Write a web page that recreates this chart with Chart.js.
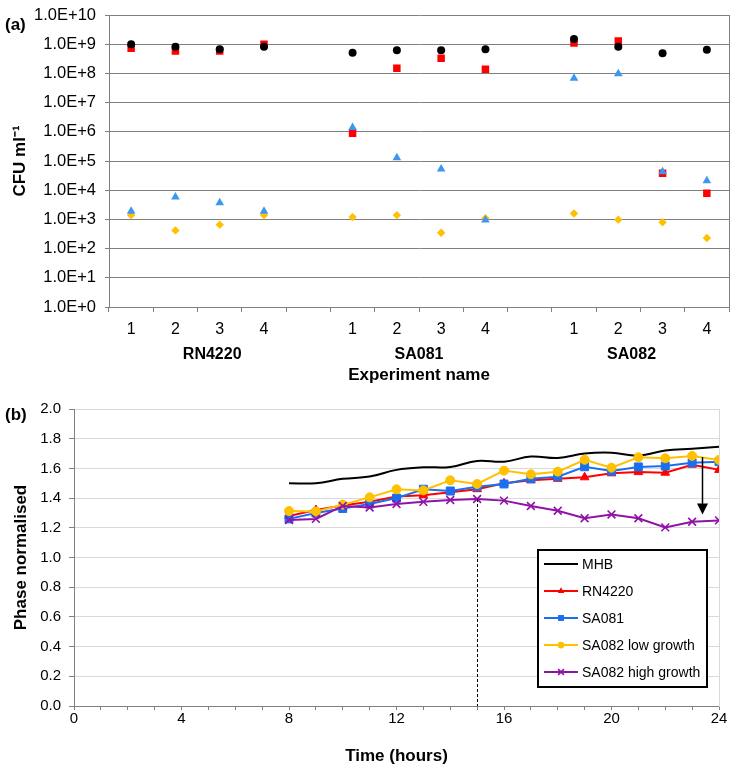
<!DOCTYPE html>
<html><head><meta charset="utf-8">
<script src="https://cdn.jsdelivr.net/npm/chart.js@4.4.1/dist/chart.umd.min.js"></script>
<style>
html,body{margin:0;padding:0;background:#fff;}
#wrap{position:relative;width:739px;height:770px;overflow:hidden;background:#fff;}
#ca{position:absolute;left:0;top:0;}
#cb{position:absolute;left:0;top:390px;}
.pl{position:absolute;font:bold 17px 'Liberation Sans',Arial,sans-serif;color:#000;line-height:20px;}
</style></head><body>
<div id="wrap">
<canvas id="ca" width="739" height="390"></canvas>
<canvas id="cb" width="739" height="380"></canvas>
<div class="pl" style="left:5px;top:15px">(a)</div>
<div class="pl" style="left:5px;top:405px">(b)</div>
</div>
<script>
// ---------- Panel (a) data ----------
const slotLabels = ['1','2','3','4','','1','2','3','4','','1','2','3','4'];
const strainNames = ['RN4220','SA081','SA082'];
const decadeTicks = [1,1e1,1e2,1e3,1e4,1e5,1e6,1e7,1e8,1e9,1e10];
const cfuCircle   = [1.0e9, 8.2e8, 6.7e8, 8.2e8, null, 5.1e8, 6.2e8, 6.2e8, 6.7e8, null, 1.5e9, 8.2e8, 4.9e8, 6.4e8];
const cfuSquare   = [7.2e8, 5.8e8, 5.8e8, 1.0e9, null, 8.9e5, 1.5e8, 3.3e8, 1.4e8, null, 1.1e9, 1.3e9, 3.8e4, 7.8e3];
const cfuTriangle = [1.9e3, 5.8e3, 3.7e3, 1.9e3, null, 1.4e6, 1.3e5, 5.3e4, 9.5e2, null, 6.8e7, 9.8e7, 4.3e4, 2.1e4];
const cfuDiamond  = [1.4e3, 4.2e2, 6.6e2, 1.4e3, null, 1.2e3, 1.4e3, 3.5e2, 1.1e3, null, 1.6e3, 9.8e2, 8.0e2, 2.3e2];

// ---------- Panel (b) data ----------
const hours = [8,9,10,11,12,13,14,15,16,17,18,19,20,21,22,23,24];
const seriesNames = ['MHB','RN4220','SA081','SA082 low growth','SA082 high growth'];
const phaseMHB  = [1.50,1.50,1.53,1.545,1.59,1.607,1.61,1.65,1.645,1.68,1.67,1.70,1.706,1.686,1.72,1.733,1.746];
const phaseRN   = [1.28,1.32,1.35,1.376,1.41,1.42,1.44,1.46,1.50,1.52,1.53,1.54,1.567,1.575,1.571,1.625,1.59];
const phase081  = [1.26,1.30,1.33,1.36,1.40,1.46,1.448,1.477,1.495,1.53,1.544,1.611,1.582,1.61,1.616,1.638,1.645];
const phaseLow  = [1.313,1.31,1.356,1.405,1.459,1.452,1.52,1.495,1.585,1.56,1.578,1.658,1.605,1.675,1.668,1.684,1.657];
const phaseHigh = [1.253,1.26,1.347,1.337,1.36,1.375,1.387,1.394,1.383,1.347,1.315,1.264,1.29,1.264,1.203,1.241,1.25];
const guideHour = 15;
const arrowHour = 23.35, arrowFrom = 1.677, arrowTo = 1.29;

Chart.defaults.font.family = "'Liberation Sans', Arial, Helvetica, sans-serif";
Chart.defaults.color = '#000';

function zeroPad(s){ s.paddingLeft=0; s.paddingRight=0; s.paddingTop=0; s.paddingBottom=0; }

// ---------- Chart (a) ----------
const colA = {circle:'#000000', square:'#ff0000', triangle:'#3d97ef', diamond:'#ffc000'};
function scatterSet(label, data, style, color, r, order){
  return {label, data, showLine:false, pointStyle:style, pointRadius:r, pointHoverRadius:r,
    backgroundColor:color, borderColor:color, pointBorderWidth:0, order};
}
new Chart(document.getElementById('ca'), {
  type:'line',
  data:{ labels:slotLabels, datasets:[
    scatterSet('circle', cfuCircle, 'circle', colA.circle, 4, 1),
    scatterSet('triangle', cfuTriangle, 'triangle', colA.triangle, 5, 2),
    scatterSet('square', cfuSquare, 'rect', colA.square, 5.3, 3),
    scatterSet('diamond', cfuDiamond, 'rectRot', colA.diamond, 4.2, 4)
  ]},
  options:{
    responsive:false, animation:false, events:[],
    layout:{padding:{top:15,right:10,left:0,bottom:0}},
    plugins:{legend:{display:false}, tooltip:{enabled:false}},
    scales:{
      x:{ type:'category', offset:true, position:'bottom', weight:0,
        grid:{offset:true, drawOnChartArea:false, drawTicks:true, tickLength:5, color:'#808080'},
        border:{color:'#808080', width:1},
        ticks:{font:{size:16}, color:'#000', padding:8, autoSkip:false, maxRotation:0},
        afterFit(s){ s.height=32; zeroPad(s); }
      },
      x2:{ type:'linear', position:'bottom', weight:1, min:-0.5, max:13.5,
        grid:{display:false, drawTicks:false}, border:{display:false},
        afterBuildTicks(s){ s.ticks = [1.83,6.5,11.3].map(v=>({value:v})); },
        ticks:{ callback:(v,i)=>strainNames[i], font:{size:16, weight:'bold'}, color:'#000', padding:6, autoSkip:false, maxRotation:0 },
        title:{display:true, text:'Experiment name', font:{size:17, weight:'bold'}, color:'#000', padding:{top:0,bottom:4}},
        afterFit(s){ s.height=51; zeroPad(s); }
      },
      y:{ type:'logarithmic', min:1, max:1e10, position:'left',
        afterBuildTicks(s){ s.ticks = decadeTicks.map(v=>({value:v})); },
        ticks:{ callback:v=>'1.0E+'+Math.round(Math.log10(v)), font:{size:16.5}, color:'#000', padding:9, autoSkip:false },
        grid:{color:'#808080', tickLength:4, lineWidth:1},
        border:{color:'#808080'},
        title:{display:true, text:'CFU ml⁻¹', font:{size:17, weight:'bold'}, color:'#000', padding:{top:10,bottom:0}},
        afterFit(s){ s.width=109; zeroPad(s); }
      },
      yR:{ type:'linear', position:'right', display:true, min:0, max:1,
        grid:{display:false, drawTicks:false}, ticks:{display:false},
        border:{display:true, color:'#808080'},
        afterFit(s){ s.width=0; zeroPad(s); }
      }
    }
  }
});

// ---------- Chart (b) ----------
const colB = {mhb:'#000000', rn:'#ff0000', sa081:'#1a6ff0', low:'#ffc000', high:'#9013a8'};
const styleB = [
  {color:colB.mhb, style:false, r:0, bw:0},
  {color:colB.rn, style:'triangle', r:5, bw:1},
  {color:colB.sa081, style:'rect', r:5.6, bw:1},
  {color:colB.low, style:'circle', r:4.5, bw:1},
  {color:colB.high, style:'crossRot', r:5.5, bw:1.6}
];
const seriesB = [phaseMHB, phaseRN, phase081, phaseLow, phaseHigh];
const datasetsB = seriesB.map((arr,k)=>({
  label:seriesNames[k],
  data:hours.map((h,i)=>({x:h, y:arr[i]})),
  borderColor:styleB[k].color, backgroundColor:styleB[k].color,
  borderWidth:2, tension:k===0?0.4:0,
  pointStyle:styleB[k].style, pointRadius:styleB[k].r, pointHoverRadius:styleB[k].r,
  pointBorderWidth:styleB[k].bw, pointBorderColor:styleB[k].color, pointBackgroundColor:styleB[k].color,
  order:5-k
}));

function drawMarker(ctx, style, x, y, r, color, bw){
  ctx.save(); ctx.fillStyle=color; ctx.strokeStyle=color; ctx.lineWidth=bw;
  ctx.beginPath();
  if(style==='triangle'){
    ctx.moveTo(x, y-r); ctx.lineTo(x+r*0.866, y+r*0.5); ctx.lineTo(x-r*0.866, y+r*0.5); ctx.closePath(); ctx.fill();
  } else if(style==='rect'){
    const s=r*0.7071; ctx.rect(x-s,y-s,2*s,2*s); ctx.fill();
  } else if(style==='circle'){
    ctx.arc(x,y,r,0,Math.PI*2); ctx.fill();
  } else if(style==='crossRot'){
    const s=r*0.7071; ctx.moveTo(x-s,y-s); ctx.lineTo(x+s,y+s); ctx.moveTo(x+s,y-s); ctx.lineTo(x-s,y+s); ctx.stroke();
  }
  ctx.restore();
}

const annotB = {
  id:'annotB',
  afterDatasetsDraw(chart){
    const ctx=chart.ctx, xs=chart.scales.x, ys=chart.scales.y;
    ctx.save();
    const gx = xs.getPixelForValue(guideHour);
    const gv = phaseHigh[hours.indexOf(guideHour)];
    ctx.strokeStyle='#000'; ctx.lineWidth=1; ctx.setLineDash([3,2]);
    ctx.beginPath(); ctx.moveTo(Math.round(gx)+0.5, ys.getPixelForValue(gv)); ctx.lineTo(Math.round(gx)+0.5, ys.getPixelForValue(0)); ctx.stroke();
    ctx.setLineDash([]);
    const ax = Math.round(xs.getPixelForValue(arrowHour))+0.5;
    const y0 = ys.getPixelForValue(arrowFrom), y1 = ys.getPixelForValue(arrowTo);
    ctx.lineWidth=1.5;
    ctx.beginPath(); ctx.moveTo(ax,y0); ctx.lineTo(ax,y1-8); ctx.stroke();
    ctx.fillStyle='#000';
    ctx.beginPath(); ctx.moveTo(ax-5.5,y1-11); ctx.lineTo(ax+5.5,y1-11); ctx.lineTo(ax,y1); ctx.closePath(); ctx.fill();
    ctx.restore();
  },
  afterDraw(chart){
    const ctx=chart.ctx, a=chart.chartArea;
    const left=a.right-181, top=a.top+141, w=169, h=137;
    ctx.save();
    ctx.fillStyle='#fff'; ctx.fillRect(left,top,w,h);
    ctx.strokeStyle='#000'; ctx.lineWidth=2; ctx.strokeRect(left,top,w,h);
    ctx.font="14px 'Liberation Sans', Arial, sans-serif"; ctx.textBaseline='middle'; ctx.textAlign='left';
    seriesNames.forEach((name,k)=>{
      const yy = top+14+k*27;
      ctx.strokeStyle=styleB[k].color; ctx.lineWidth=2;
      ctx.beginPath(); ctx.moveTo(left+6,yy); ctx.lineTo(left+40,yy); ctx.stroke();
      if(styleB[k].style) drawMarker(ctx, styleB[k].style, left+23, yy, styleB[k].r*0.75, styleB[k].color, styleB[k].bw);
      ctx.fillStyle='#000'; ctx.fillText(name, left+44, yy+1);
    });
    ctx.restore();
  }
};

new Chart(document.getElementById('cb'), {
  type:'line',
  data:{ datasets:datasetsB },
  options:{
    responsive:false, animation:false, events:[],
    layout:{padding:{top:19,right:20,left:0,bottom:0}},
    plugins:{legend:{display:false}, tooltip:{enabled:false}},
    scales:{
      x:{ type:'linear', position:'bottom', min:0, max:24,
        ticks:{stepSize:1, autoSkip:false, maxRotation:0, font:{size:15}, color:'#000', padding:0,
          callback:v=>(v%4===0?String(v):'')},
        grid:{drawOnChartArea:false, drawTicks:true, tickLength:4, color:'#808080'},
        border:{color:'#808080'},
        title:{display:true, text:'Time (hours)', font:{size:17, weight:'bold'}, color:'#000', padding:{top:0,bottom:3}},
        afterFit(s){ s.height=64; zeroPad(s); }
      },
      y:{ type:'linear', position:'left', min:0, max:2,
        ticks:{stepSize:0.2, font:{size:15}, color:'#000', padding:8, callback:v=>v.toFixed(1)},
        grid:{color:'#d9d9d9', tickColor:'#808080', tickLength:5},
        border:{color:'#808080'},
        title:{display:true, text:'Phase normalised', font:{size:17, weight:'bold'}, color:'#000', padding:{top:11,bottom:0}},
        afterFit(s){ s.width=74; zeroPad(s); }
      },
      yR:{ type:'linear', position:'right', display:true, min:0, max:1,
        grid:{display:false, drawTicks:false}, ticks:{display:false},
        border:{display:true, color:'#d9d9d9'},
        afterFit(s){ s.width=0; zeroPad(s); }
      }
    }
  },
  plugins:[annotB]
});
</script>
</body></html>
